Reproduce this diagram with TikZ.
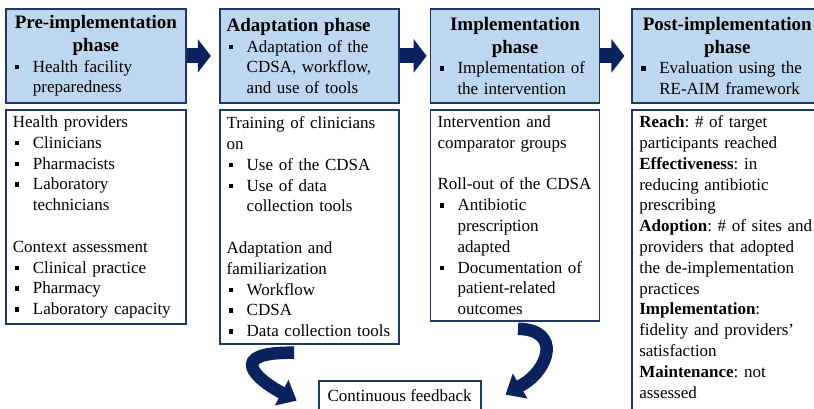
\documentclass[tikz,border=0pt]{standalone}
\usepackage{fontspec}
\setmainfont{Liberation Serif}
\usetikzlibrary{positioning,arrows.meta}

\definecolor{phasefill}{RGB}{189,215,238}
\definecolor{phaseline}{RGB}{31,56,100}
\definecolor{arrowblue}{RGB}{10,35,95}

\setlength{\parindent}{0pt}
\frenchspacing
\newcommand{\phasetitle}[1]{{\centering\fontsize{19}{23}\selectfont\bfseries #1\par}}
\newcommand{\itm}[1]{\par\hangindent=20pt\hangafter=0\noindent\llap{\rule[3pt]{4.5pt}{4.5pt}\hspace{13.5pt}}{\let\\\newline #1}\par}
\newcommand{\gap}{\par\vspace{\baselineskip}}

\begin{document}
\begin{tikzpicture}[x=1pt,y=1pt]
\tikzset{every node/.style={font=\fontsize{17}{20.8}\selectfont}}
\tikzset{panel/.style={draw=phaseline,line width=1.8pt,align=left,inner xsep=7pt,inner ysep=6pt}}
\tikzset{phase/.style={panel,fill=phasefill,minimum height=94pt}}
\tikzset{flow/.style={arrowblue,line width=15pt,-{Triangle[width=33pt,length=13pt]}}}
\tikzset{turn/.style={arrowblue,line width=12.5pt,-{Triangle[width=28pt,length=17pt]}}}
\useasboundingbox (0,0) rectangle (814,-409);

\node[phase,text width=166pt,anchor=north west] (h1) at (5,-8) {\phasetitle{Pre-implementation\\ phase}\itm{Health facility\\ preparedness}};
\node[phase,text width=165pt,right=32pt of h1] (h2) {{\fontsize{19}{23}\selectfont\bfseries Adaptation phase\par}\itm{Adaptation of the\\ CDSA, workflow,\\ and use of tools}};
\node[phase,text width=155pt,right=30pt of h2] (h3) {\phasetitle{Implementation\\ phase}\itm{Implementation of\\ the intervention}};
\node[phase,text width=176pt,right=31pt of h3] (h4) {\phasetitle{Post-implementation\\ phase}\itm{Evaluation using the\\ RE-AIM framework}};

\node[panel,text width=166pt,below=5pt of h1] (b1) {Health providers
\itm{Clinicians}
\itm{Pharmacists}
\itm{Laboratory\\ technicians}
\gap
Context assessment
\itm{Clinical practice}
\itm{Pharmacy}
\itm{Laboratory capacity}};
\node[panel,text width=165pt,below=5pt of h2,inner ysep=7pt] (b2) {Training of clinicians\\ on
\itm{Use of the CDSA}
\itm{Use of data\\ collection tools}
\gap
Adaptation and\\ familiarization
\itm{Workflow}
\itm{CDSA}
\itm{Data collection tools}};
\node[panel,text width=155pt,below=5pt of h3] (b3) {Intervention and\\ comparator groups
\gap
Roll-out of the CDSA
\itm{Antibiotic\\ prescription\\ adapted}
\itm{Documentation of\\ patient-related\\ outcomes}};
\node[panel,text width=176pt,below=5pt of h4] (b4) {\textbf{Reach}: \# of target\\ participants reached\\
\textbf{Effectiveness}: in\\ reducing antibiotic\\ prescribing\\
\textbf{Adoption}: \# of sites and\\ providers that adopted\\ the de-implementation\\ practices\\
\textbf{Implementation}:\\ fidelity and providers'\\ satisfaction\\
\textbf{Maintenance}: not\\ assessed\par\rule{0pt}{0pt}};

\node[panel,minimum width=162pt,minimum height=30pt,below=35pt of b2.south east] (fb) {Continuous feedback};

\draw[flow] (h1.east) -- ([xshift=-8pt]h2.west);
\draw[flow] (h2.east) -- ([xshift=-3pt]h3.west);
\draw[flow] (h3.east) -- ([xshift=-7pt]h4.west);

\draw[turn] ([xshift=-15pt,yshift=-8pt]b2.south) .. controls +(-70,1) and +(-22,12) .. ([xshift=-38pt,yshift=4pt]fb.west) -- ([xshift=-21pt,yshift=-5pt]fb.west);
\draw[turn] ([xshift=3pt,yshift=-7pt]b3.south) .. controls +(44,-1) and +(26,15) .. ([xshift=41pt,yshift=11pt]fb.east) -- ([xshift=24pt,yshift=1pt]fb.east);
\end{tikzpicture}
\end{document}
